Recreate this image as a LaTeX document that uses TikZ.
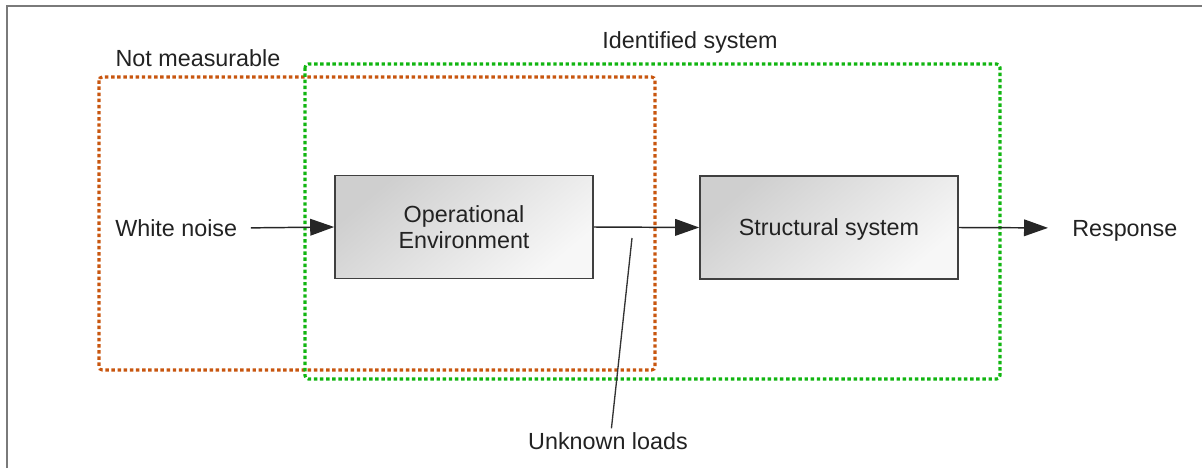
\documentclass[tikz,border=0pt]{standalone}
\usepackage{fontspec}
\setmainfont{Liberation Sans}
\usetikzlibrary{arrows.meta}
\definecolor{framegray}{HTML}{7A7A7A}
\definecolor{nmorange}{HTML}{C8560F}
\definecolor{idgreen}{HTML}{11B511}
\definecolor{txt}{HTML}{222222}
\begin{document}
\begin{tikzpicture}[x=0.75pt,y=-0.75pt,
  lbl/.style={font=\fontsize{17.5}{20}\selectfont, text=txt, inner sep=0pt, text depth=0pt},
  block/.style={draw=black!75, line width=1.2pt, minimum width=193.5pt, minimum height=77pt,
    top color=black!19, bottom color=black!3, shading angle=40,
    align=center, font=\fontsize{17.5}{20}\selectfont, text=txt},
  zone/.style={line width=2.3pt, dash pattern=on 2.6pt off 2pt, rounded corners=2.5pt},
  flow/.style={line width=1.1pt, draw=black!85, -{Triangle[length=18pt,width=12.5pt]}}]
  \useasboundingbox (0,0) rectangle (1202,468);
  % frame lines
  \draw[framegray, line width=1.1pt] (7,468) -- (7,6) -- (1202,6);

  % zones
  \draw[zone, nmorange] (99,77) rectangle (655,370);
  \draw[zone, idgreen] (305,64) rectangle (1000,379);
  \node[lbl] (nm) at (198,58) {Not measurable};
  \node[lbl] (ids) at (690,40) {Identified system};

  % blocks
  \node[block] (op) at (464,227) {Operational\\Environment};
  \node[block, text depth=0.5pt] (ss) at (829,227.5) {Structural system};

  % signals
  \node[lbl, anchor=west] (wn) at (115,228) {White noise};
  \node[lbl, anchor=west] (resp) at (1072,228) {Response};
  \node[lbl] (ul) at (608,441) {Unknown loads};
  \coordinate (ltop) at (632,238);

  \draw[flow, shorten <=10pt] (wn.east) -- (op.west);
  \draw[flow] (op.east) -- (ss.west);
  \draw[flow, shorten >=18pt] (ss.east) -- (resp.west);
  \draw[line width=1pt, black!80, shorten >=3pt] (ltop) -- ([xshift=2.25pt]ul.north);
\end{tikzpicture}
\end{document}
